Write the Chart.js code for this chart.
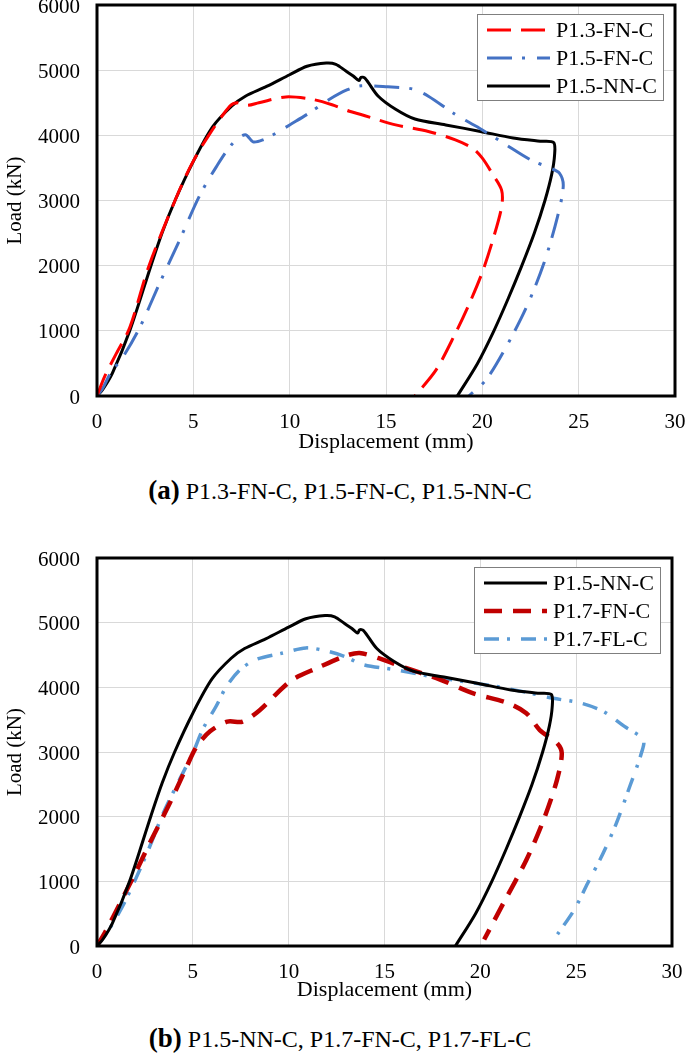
<!DOCTYPE html>
<html><head><meta charset="utf-8">
<script src="https://cdn.jsdelivr.net/npm/chart.js@4.4.1/dist/chart.umd.min.js"></script>
<style>
html,body{margin:0;padding:0;background:#fff;width:685px;height:1055px;overflow:hidden;}
.wrap{position:absolute;left:0;width:685px;height:460px;}
.cap{position:absolute;left:0;width:680px;text-align:center;font-family:"Liberation Serif","Times New Roman",serif;font-size:24px;line-height:30px;color:#000;white-space:nowrap;}
.cap b{font-size:27px;}
</style></head><body>
<div class="wrap" style="top:0"><canvas id="c1" width="685" height="460"></canvas></div>
<div class="cap" style="top:475px"><b>(a)</b> P1.3-FN-C, P1.5-FN-C, P1.5-NN-C</div>
<div class="wrap" style="top:545px"><canvas id="c2" width="685" height="460"></canvas></div>
<div class="cap" style="top:1023px"><b>(b)</b> P1.5-NN-C, P1.7-FN-C, P1.7-FL-C</div>
<script>
// ---- data: [displacement (mm), load (kN)] ----
const P15_NN_C = [[0,0],[0.3,100],[0.8,350],[1.7,1000],[2.8,2000],[3.4,2520],[4.05,3000],[5.0,3600],[6.0,4130],[7.0,4450],[7.7,4600],[8.8,4750],[10.0,4930],[10.9,5060],[11.9,5110],[12.4,5090],[12.9,4990],[13.3,4910],[13.6,4840],[13.7,4890],[13.9,4880],[14.6,4600],[15.5,4400],[16.5,4250],[18.1,4160],[19.9,4060],[21.6,3960],[23.0,3910],[23.7,3890],[23.75,3700],[23.6,3400],[23.25,3000],[22.7,2500],[22.05,2000],[21.35,1500],[20.6,1000],[19.75,500],[18.7,0]];
const P13_FN_C = [[0,0],[0.4,300],[1.0,650],[1.7,1050],[2.7,2000],[4.05,3000],[4.9,3550],[5.8,4000],[6.9,4450],[7.3,4500],[7.8,4460],[8.4,4500],[9.8,4590],[11.2,4550],[12.2,4470],[13.1,4370],[13.7,4320],[15.5,4160],[17.2,4060],[18.6,3930],[19.5,3800],[20.0,3650],[20.5,3420],[21.0,3160],[21.0,2900],[20.55,2400],[20.0,1900],[19.3,1400],[18.6,960],[17.6,400],[16.5,0]];
const P15_FN_C = [[0,0],[0.3,120],[0.7,350],[1.35,600],[2.2,1040],[3.25,1730],[4.3,2400],[5.3,3060],[6.2,3520],[7.05,3880],[7.7,4010],[8.1,3900],[8.6,3930],[9.3,4035],[10.0,4160],[11.0,4340],[12.05,4550],[13.0,4700],[13.7,4760],[15.1,4745],[16.4,4710],[17.2,4600],[18.6,4320],[19.85,4110],[21.1,3880],[22.5,3625],[23.5,3500],[24.0,3420],[24.2,3220],[23.9,2750],[23.2,2040],[22.3,1370],[21.25,760],[20.2,250],[19.3,0]];
const P17_FN_C = [[0,0],[0.4,200],[0.84,450],[1.9,1070],[2.75,1590],[3.8,2210],[4.6,2720],[5.2,3085],[5.9,3320],[6.8,3470],[7.6,3470],[8.5,3650],[9.4,3910],[10.2,4120],[11.5,4300],[12.9,4480],[13.7,4530],[14.7,4450],[16.1,4300],[17.9,4120],[19.6,3910],[21.4,3760],[22.4,3600],[23.1,3340],[24.0,3140],[24.25,2980],[24.0,2570],[23.3,1950],[22.4,1330],[21.2,660],[20.2,100]];
const P17_FL_C = [[0,0],[0.66,270],[1.5,710],[2.6,1430],[3.45,2050],[4.3,2570],[5.0,2980],[5.5,3340],[6.2,3700],[6.76,4015],[7.46,4270],[8.3,4430],[9.7,4530],[10.9,4610],[12.0,4560],[12.9,4480],[13.9,4350],[15.6,4270],[17.4,4170],[19.1,4090],[20.8,4015],[22.6,3910],[23.8,3830],[25.2,3760],[26.4,3630],[27.5,3400],[28.5,3190],[28.4,2980],[27.8,2470],[27.1,1900],[26.4,1430],[25.6,970],[24.9,560],[24.0,170]];
const xTicks = [0,5,10,15,20,25,30];
const yTicks = [0,1000,2000,3000,4000,5000,6000];
const xTitle = 'Displacement (mm)';
const yTitle = 'Load (kN)';

const SERIF = '"Liberation Serif","Times New Roman",serif';
const toXY = arr => arr.map(p => ({x: p[0], y: p[1]}));

function ds(label, data, color, width, dash) {
  return {label, data: toXY(data), borderColor: color, backgroundColor: color, borderWidth: width,
    borderDash: dash, pointRadius: 0, pointHoverRadius: 0, tension: 0.3, fill: false,
    borderCapStyle: 'butt', borderJoinStyle: 'round'};
}

const frame = {
  id: 'frame',
  afterDatasetsDraw(chart) {
    const {ctx, chartArea: a} = chart;
    ctx.save(); ctx.strokeStyle = '#000'; ctx.lineWidth = 3; ctx.setLineDash([]);
    ctx.strokeRect(a.left, a.top, a.right - a.left, a.bottom - a.top);
    ctx.restore();
  }
};
const boxLegend = {
  id: 'boxLegend',
  afterDraw(chart, args, o) {
    const {ctx, chartArea: a} = chart;
    const left = Math.round(a.right - o.offRight - o.width), top = Math.round(a.top + o.offTop);
    ctx.save();
    ctx.fillStyle = '#fff'; ctx.fillRect(left, top, o.width, o.height);
    ctx.strokeStyle = '#7f7f7f'; ctx.lineWidth = 1; ctx.setLineDash([]);
    ctx.strokeRect(left + 0.5, top + 0.5, o.width, o.height);
    chart.data.datasets.forEach((d, i) => {
      const y = top + o.rowStart + i * o.rowGap;
      ctx.beginPath(); ctx.setLineDash(d.borderDash || []); ctx.lineWidth = d.borderWidth;
      ctx.strokeStyle = d.borderColor; ctx.lineCap = 'butt';
      ctx.moveTo(left + 10, y); ctx.lineTo(left + 73, y); ctx.stroke();
      ctx.setLineDash([]);
      ctx.fillStyle = '#000'; ctx.font = '22px ' + SERIF; ctx.textBaseline = 'middle'; ctx.textAlign = 'left';
      ctx.fillText(d.label, left + 79, y + 1);
    });
    ctx.restore();
  }
};

function makeChart(id, datasets, padTop, padRight, xScaleH, titlePadBottom) {
  return new Chart(document.getElementById(id), {
    type: 'line',
    data: {datasets},
    plugins: [frame, boxLegend],
    options: {
      responsive: false, animation: false, devicePixelRatio: 1,
      layout: {padding: {top: padTop, right: padRight, left: 0, bottom: 0}},
      plugins: {legend: {display: false}, tooltip: {enabled: false},
        boxLegend: {width: 186, height: 86, offRight: 12, offTop: 9, rowStart: 16, rowGap: 28}},
      scales: {
        x: {type: 'linear', min: xTicks[0], max: xTicks[xTicks.length - 1],
          afterBuildTicks: s => { s.ticks = xTicks.map(v => ({value: v})); },
          afterFit: s => { s.height = xScaleH; s.paddingLeft = 0; s.paddingRight = 0; },
          grid: {color: '#d9d9d9', lineWidth: 1, drawTicks: false},
          border: {display: false},
          ticks: {padding: 14, color: '#000', font: {family: SERIF, size: 21}, maxRotation: 0, callback: v => String(v)},
          title: {display: true, text: xTitle, color: '#000', font: {family: SERIF, size: 22}, padding: {top: 0, bottom: titlePadBottom}}
        },
        y: {type: 'linear', min: yTicks[0], max: yTicks[yTicks.length - 1],
          afterBuildTicks: s => { s.ticks = yTicks.map(v => ({value: v})); },
          afterFit: s => { s.width = 97; s.paddingTop = 0; s.paddingBottom = 0; },
          grid: {color: '#d9d9d9', lineWidth: 1, drawTicks: false},
          border: {display: false},
          ticks: {padding: 17, labelOffset: 2, color: '#000', font: {family: SERIF, size: 21}, callback: v => String(v)},
          title: {display: true, text: yTitle, color: '#000', font: {family: SERIF, size: 21}, padding: {top: 3, bottom: 0}}
        }
      }
    }
  });
}

makeChart('c1', [
  ds('P1.3-FN-C', P13_FN_C, '#ff0000', 3, [24, 10]),
  ds('P1.5-FN-C', P15_FN_C, '#4472c4', 3, [25, 10, 3, 12]),
  ds('P1.5-NN-C', P15_NN_C, '#000000', 3, [])
], 5, 10, 64, 4.8);

makeChart('c2', [
  ds('P1.5-NN-C', P15_NN_C, '#000000', 3, []),
  ds('P1.7-FN-C', P17_FN_C, '#c00000', 4.5, [18, 11]),
  ds('P1.7-FL-C', P17_FL_C, '#5b9bd5', 3.5, [15, 8, 3, 11])
], 13, 13, 59, 1.8);
</script>
</body></html>
